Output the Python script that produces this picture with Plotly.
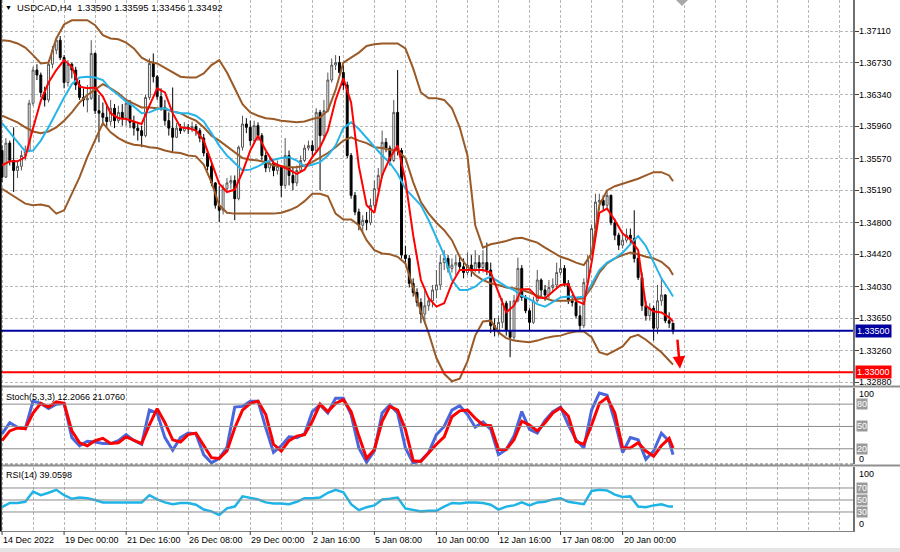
import plotly.graph_objects as go

# ---------------- text ----------------
symbol_title = "USDCAD,H4  1.33590 1.33595 1.33456 1.33492"
stoch_title = "Stoch(5,3,3) 12.2066 21.0760"
rsi_title = "RSI(14) 39.0598"

time_tick_bars = [0, 16, 32, 48, 64, 80, 96, 112, 128, 144, 160]
time_tick_labels = ["14 Dec 2022", "19 Dec 00:00", "21 Dec 16:00", "26 Dec 08:00",
                    "29 Dec 00:00", "2 Jan 16:00", "5 Jan 08:00", "10 Jan 00:00",
                    "12 Jan 16:00", "17 Jan 08:00", "20 Jan 00:00"]

price_ticks = [1.37110, 1.36730, 1.36340, 1.35960, 1.35570, 1.35190,
               1.34800, 1.34420, 1.34030, 1.33650, 1.33260, 1.32880]

support_level = 1.33500
target_level = 1.33000

# ---------------- candles (H4) ----------------
first_open = 1.3567
close = [
    1.3535, 1.3576, 1.3555, 1.3543, 1.3548, 1.3561, 1.3567, 1.3624, 1.3664, 1.3658,
    1.3637, 1.3628, 1.3671, 1.3688, 1.3700, 1.3679, 1.3649, 1.3671, 1.3664, 1.3646,
    1.3631, 1.3628, 1.3630, 1.3684, 1.3615, 1.3612, 1.3607, 1.3602, 1.3618, 1.3603,
    1.3613, 1.3606, 1.3624, 1.3601, 1.3594, 1.3591, 1.3585, 1.3631, 1.3672, 1.3656,
    1.3632, 1.3619, 1.3603, 1.3594, 1.3583, 1.3594, 1.3591, 1.3595, 1.3593, 1.3596,
    1.3591, 1.3582, 1.3564, 1.3548, 1.3528, 1.3501, 1.3495, 1.3521, 1.3528, 1.3531,
    1.3509, 1.3571, 1.3599, 1.3595, 1.3579, 1.3597, 1.3585, 1.3561, 1.3546, 1.3552,
    1.3543, 1.3548, 1.3525, 1.3561, 1.3537, 1.3528, 1.3543, 1.3555, 1.3570, 1.3573,
    1.3567, 1.3613, 1.3585, 1.3615, 1.3652, 1.3670, 1.3673, 1.3661, 1.3646, 1.3561,
    1.3513, 1.3493, 1.3477, 1.3483, 1.3480, 1.3501, 1.3521, 1.3537, 1.3577, 1.3570,
    1.3555, 1.3613, 1.3567, 1.3441, 1.3437, 1.3407, 1.3396, 1.3384, 1.3370, 1.3380,
    1.3386, 1.3399, 1.3405, 1.3432, 1.3437, 1.3425, 1.3429, 1.3432, 1.3427, 1.3420,
    1.3429, 1.3423, 1.3432, 1.3426, 1.3432, 1.3423, 1.3356, 1.3350, 1.3360, 1.3383,
    1.3350, 1.3342, 1.3386, 1.3425, 1.3390, 1.3374, 1.3360, 1.3386, 1.3411, 1.3399,
    1.3393, 1.3402, 1.3405, 1.3420, 1.3425, 1.3407, 1.3386, 1.3384, 1.3368, 1.3356,
    1.3408, 1.3435, 1.3473, 1.3505, 1.3507, 1.3501, 1.3513, 1.3480, 1.3465, 1.3453,
    1.3459, 1.3465, 1.3461, 1.3437, 1.3414, 1.3380, 1.3368, 1.3377, 1.3353, 1.3386,
    1.3393, 1.3362, 1.33590, 1.33492]
high = [
    1.3573, 1.3582, 1.3579, 1.3595, 1.3555, 1.3567, 1.3573, 1.3628, 1.3668, 1.3671,
    1.3661, 1.3644, 1.3676, 1.3693, 1.3703, 1.3705, 1.3682, 1.3676, 1.3673, 1.3668,
    1.3652, 1.3642, 1.3646, 1.3700, 1.3685, 1.3634, 1.3625, 1.3623, 1.3628, 1.3623,
    1.3621, 1.3623, 1.3630, 1.3628, 1.3609, 1.3601, 1.3597, 1.3634, 1.3678, 1.3684,
    1.3658, 1.3642, 1.3628, 1.3613, 1.3643, 1.3600, 1.3599, 1.3601, 1.3599, 1.3602,
    1.3599, 1.3594, 1.3587, 1.3567, 1.3553, 1.3529, 1.3524, 1.3526, 1.3534, 1.3537,
    1.3537, 1.3573, 1.3609, 1.3606, 1.3603, 1.3603, 1.3601, 1.3588, 1.3565, 1.3558,
    1.3555, 1.3555, 1.3549, 1.3582, 1.3567, 1.3546, 1.3549, 1.3561, 1.3574, 1.3579,
    1.3579, 1.3618, 1.3616, 1.3628, 1.3661, 1.3678, 1.3682, 1.3681, 1.3670, 1.3650,
    1.3564, 1.3517, 1.3497, 1.3489, 1.3493, 1.3509, 1.3531, 1.3546, 1.3591, 1.3582,
    1.3573, 1.3628, 1.3664, 1.3570, 1.3452, 1.3441, 1.3413, 1.3401, 1.3389, 1.3402,
    1.3390, 1.3405, 1.3423, 1.3441, 1.3447, 1.3441, 1.3437, 1.3441, 1.3441, 1.3437,
    1.3444, 1.3441, 1.3447, 1.3441, 1.3447, 1.3456, 1.3432, 1.3365, 1.3368, 1.3389,
    1.3386, 1.3386, 1.3393, 1.3438, 1.3429, 1.3393, 1.3377, 1.3391, 1.3423, 1.3413,
    1.3405, 1.3411, 1.3413, 1.3432, 1.3437, 1.3429, 1.3411, 1.3393, 1.3389, 1.3380,
    1.3413, 1.3441, 1.3478, 1.3515, 1.3515, 1.3513, 1.3519, 1.3514, 1.3485, 1.3468,
    1.3468, 1.3473, 1.3473, 1.3495, 1.3444, 1.3420, 1.3386, 1.3383, 1.3380, 1.3405,
    1.3413, 1.3394, 1.3372, 1.33595]
low = [
    1.3529, 1.3534, 1.3549, 1.3517, 1.3534, 1.3543, 1.3555, 1.3565, 1.3621, 1.3652,
    1.3631, 1.3620, 1.3625, 1.3666, 1.3683, 1.3676, 1.3642, 1.3644, 1.3654, 1.3640,
    1.3628, 1.3620, 1.3613, 1.3628, 1.3611, 1.3577, 1.3597, 1.3596, 1.3597, 1.3594,
    1.3600, 1.3597, 1.3597, 1.3594, 1.3585, 1.3579, 1.3571, 1.3583, 1.3628, 1.3649,
    1.3628, 1.3615, 1.3597, 1.3585, 1.3564, 1.3582, 1.3587, 1.3589, 1.3587, 1.3589,
    1.3585, 1.3577, 1.3560, 1.3543, 1.3524, 1.3497, 1.3481, 1.3490, 1.3519, 1.3521,
    1.3483, 1.3507, 1.3567, 1.3588, 1.3573, 1.3576, 1.3579, 1.3555, 1.3541, 1.3541,
    1.3536, 1.3538, 1.3511, 1.3521, 1.3525, 1.3519, 1.3524, 1.3543, 1.3553, 1.3567,
    1.3560, 1.3564, 1.3519, 1.3579, 1.3613, 1.3649, 1.3664, 1.3654, 1.3640, 1.3558,
    1.3509, 1.3489, 1.3471, 1.3468, 1.3471, 1.3477, 1.3497, 1.3519, 1.3534, 1.3565,
    1.3549, 1.3553, 1.3561, 1.3437, 1.3432, 1.3402, 1.3391, 1.3379, 1.3359, 1.3359,
    1.3374, 1.3378, 1.3389, 1.3399, 1.3423, 1.3420, 1.3420, 1.3417, 1.3423, 1.3413,
    1.3417, 1.3415, 1.3420, 1.3419, 1.3420, 1.3417, 1.3347, 1.3343, 1.3344, 1.3353,
    1.3344, 1.3318, 1.3338, 1.3384, 1.3386, 1.3371, 1.3350, 1.3358, 1.3384, 1.3391,
    1.3386, 1.3389, 1.3396, 1.3401, 1.3417, 1.3403, 1.3382, 1.3379, 1.3365, 1.3350,
    1.3353, 1.3405, 1.3432, 1.3471, 1.3495, 1.3495, 1.3497, 1.3477, 1.3459, 1.3447,
    1.3449, 1.3456, 1.3453, 1.3432, 1.3411, 1.3374, 1.3362, 1.3362, 1.3338, 1.3346,
    1.3380, 1.3359, 1.3353, 1.33456]
open_ = [first_open] + close[:-1]
bars = list(range(len(close)))

# ---------------- indicators (read every 2nd bar) ----------------
ind_bars = list(range(0, 173, 2)) + [173]
ma_fast = [
    1.3549, 1.3554, 1.3554, 1.3559, 1.3594, 1.3627, 1.3649, 1.3664, 1.3676, 1.3668,
    1.3644, 1.3642, 1.3643, 1.3632, 1.3612, 1.3606, 1.3605, 1.3602, 1.3599, 1.3621,
    1.3642, 1.3637, 1.3612, 1.3595, 1.3594, 1.3591, 1.3579, 1.3553, 1.3527, 1.3517,
    1.3520, 1.3541, 1.3567, 1.3585, 1.3567, 1.3552, 1.3548, 1.3544, 1.3539, 1.3544,
    1.3559, 1.3571, 1.3591, 1.3628, 1.3654, 1.3625, 1.3548, 1.3501, 1.3492, 1.3537,
    1.3558, 1.3573, 1.3531, 1.3465, 1.3411, 1.3389, 1.3379, 1.3383, 1.3407, 1.3423,
    1.3423, 1.3423, 1.3423, 1.3420, 1.3396, 1.3372, 1.3380, 1.3400, 1.3400, 1.3390,
    1.3389, 1.3397, 1.3405, 1.3406, 1.3386, 1.3382, 1.3432, 1.3492, 1.3497, 1.3483,
    1.3467, 1.3460, 1.3447, 1.3380, 1.3373, 1.3372, 1.3366, 1.3361]
ma_slow = [
    1.3600, 1.3589, 1.3578, 1.3566, 1.3567, 1.3579, 1.3595, 1.3613, 1.3631, 1.3647,
    1.3655, 1.3656, 1.3655, 1.3652, 1.3641, 1.3634, 1.3626, 1.3620, 1.3612, 1.3613,
    1.3617, 1.3618, 1.3614, 1.3612, 1.3612, 1.3609, 1.3602, 1.3588, 1.3573, 1.3561,
    1.3552, 1.3543, 1.3544, 1.3548, 1.3553, 1.3556, 1.3558, 1.3559, 1.3555, 1.3548,
    1.3550, 1.3553, 1.3561, 1.3573, 1.3594, 1.3601, 1.3593, 1.3582, 1.3571, 1.3561,
    1.3552, 1.3539, 1.3521, 1.3511, 1.3501, 1.3483, 1.3462, 1.3441, 1.3411, 1.3399,
    1.3399, 1.3403, 1.3411, 1.3415, 1.3409, 1.3403, 1.3399, 1.3392, 1.3388, 1.3382,
    1.3379, 1.3385, 1.3390, 1.3391, 1.3390, 1.3391, 1.3406, 1.3423, 1.3432, 1.3437,
    1.3444, 1.3454, 1.3464, 1.3452, 1.3432, 1.3413, 1.3399, 1.3391]
bb_upper = [
    1.3700, 1.3699, 1.3696, 1.3691, 1.3682, 1.3672, 1.3673, 1.3702, 1.3719, 1.3724,
    1.3724, 1.3724, 1.3718, 1.3706, 1.3702, 1.3701, 1.3697, 1.3690, 1.3679, 1.3674,
    1.3672, 1.3667, 1.3661, 1.3656, 1.3655, 1.3655, 1.3660, 1.3670, 1.3676, 1.3661,
    1.3642, 1.3623, 1.3613, 1.3609, 1.3606, 1.3605, 1.3603, 1.3602, 1.3601, 1.3602,
    1.3605, 1.3607, 1.3615, 1.3640, 1.3673, 1.3679, 1.3685, 1.3693, 1.3695, 1.3696,
    1.3696, 1.3696, 1.3690, 1.3666, 1.3637, 1.3630, 1.3630, 1.3628, 1.3618, 1.3595,
    1.3561, 1.3477, 1.3450, 1.3454, 1.3456, 1.3458, 1.3461, 1.3462, 1.3459, 1.3456,
    1.3450, 1.3444, 1.3439, 1.3436, 1.3432, 1.3429, 1.3443, 1.3501, 1.3519, 1.3524,
    1.3527, 1.3530, 1.3533, 1.3537, 1.3541, 1.3541, 1.3537, 1.3530]
bb_mid = [
    1.3609, 1.3605, 1.3601, 1.3595, 1.3590, 1.3588, 1.3590, 1.3595, 1.3603, 1.3613,
    1.3625, 1.3634, 1.3640, 1.3647, 1.3642, 1.3636, 1.3628, 1.3623, 1.3619, 1.3619,
    1.3618, 1.3617, 1.3614, 1.3612, 1.3607, 1.3603, 1.3595, 1.3585, 1.3579, 1.3572,
    1.3565, 1.3558, 1.3556, 1.3555, 1.3553, 1.3549, 1.3548, 1.3547, 1.3547, 1.3549,
    1.3553, 1.3558, 1.3564, 1.3571, 1.3579, 1.3583, 1.3579, 1.3576, 1.3571, 1.3570,
    1.3568, 1.3567, 1.3558, 1.3529, 1.3505, 1.3491, 1.3480, 1.3471, 1.3459, 1.3439,
    1.3427, 1.3417, 1.3411, 1.3407, 1.3405, 1.3402, 1.3401, 1.3399, 1.3396, 1.3392,
    1.3389, 1.3386, 1.3386, 1.3386, 1.3388, 1.3389, 1.3402, 1.3420, 1.3431, 1.3437,
    1.3441, 1.3444, 1.3442, 1.3439, 1.3437, 1.3433, 1.3425, 1.3417]
bb_lower = [
    1.3521, 1.3515, 1.3508, 1.3503, 1.3501, 1.3502, 1.3500, 1.3491, 1.3495, 1.3515,
    1.3535, 1.3559, 1.3579, 1.3600, 1.3589, 1.3582, 1.3577, 1.3574, 1.3573, 1.3571,
    1.3570, 1.3567, 1.3565, 1.3564, 1.3561, 1.3560, 1.3550, 1.3529, 1.3501, 1.3492,
    1.3491, 1.3491, 1.3491, 1.3491, 1.3491, 1.3491, 1.3492, 1.3495, 1.3499, 1.3506,
    1.3515, 1.3515, 1.3512, 1.3491, 1.3484, 1.3484, 1.3477, 1.3459, 1.3447, 1.3443,
    1.3442, 1.3439, 1.3431, 1.3401, 1.3373, 1.3347, 1.3317, 1.3298, 1.3289, 1.3292,
    1.3313, 1.3344, 1.3361, 1.3362, 1.3348, 1.3341, 1.3338, 1.3337, 1.3336, 1.3338,
    1.3341, 1.3343, 1.3344, 1.3347, 1.3349, 1.3349, 1.3342, 1.3324, 1.3321, 1.3326,
    1.3331, 1.3342, 1.3345, 1.3339, 1.3332, 1.3324, 1.3314, 1.3309]
stoch_main = [
    40, 55, 49, 47, 84, 81, 74, 80, 81, 35, 24, 30, 29, 27, 27, 31, 39, 31, 26, 72,
    68, 35, 18, 35, 41, 40, 12, 1, 7, 22, 76, 77, 84, 84, 48, 15, 24, 36, 35, 40,
    70, 79, 68, 88, 88, 66, 21, 2, 17, 68, 79, 68, 21, 1, 4, 15, 39, 50, 72, 78,
    66, 49, 56, 46, 12, 19, 37, 70, 46, 41, 58, 70, 76, 52, 32, 21, 72, 95, 92, 57,
    15, 35, 32, 6, 17, 41, 30, 12.2066]
stoch_signal = [
    31, 44, 48, 47, 68, 81, 76, 83, 81, 44, 28, 24, 31, 34, 27, 28, 36, 32, 27, 52,
    74, 55, 32, 29, 39, 41, 25, 8, 7, 17, 48, 72, 81, 84, 66, 26, 17, 31, 37, 39,
    57, 80, 70, 81, 86, 70, 37, 7, 19, 57, 77, 72, 46, 4, 3, 15, 26, 36, 63, 71,
    72, 61, 52, 51, 19, 19, 32, 57, 52, 44, 55, 68, 75, 64, 30, 26, 52, 81, 89, 68,
    21, 21, 28, 17, 10, 24, 34, 21.0760]
rsi = [
    38, 45, 45, 47, 64, 58, 62, 67, 58, 52, 54, 53, 50, 46, 46, 46, 45, 46, 46, 58,
    51, 46, 43, 45, 45, 42, 34, 31, 25, 36, 39, 56, 54, 51, 46, 44, 44, 43, 47, 53,
    53, 54, 62, 67, 63, 43, 33, 38, 41, 51, 52, 54, 36, 33, 31, 32, 32, 39, 45, 44,
    46, 46, 45, 42, 34, 39, 41, 46, 41, 46, 47, 51, 53, 47, 45, 43, 65, 67, 66, 59,
    55, 56, 39, 38, 41, 43, 39, 39.0598]
stoch_levels = [80, 50, 20]
rsi_levels = [70, 50, 30]

# ---------------- figure ----------------
W, H = 900, 552
XR = 853 / W
def py(px):
    return 1 - px / H

BROWN = "#9a5a28"
GRID = "#b8b8b8"
DASH = "3px,2px"
FONT = "Liberation Sans, Arial, sans-serif"

fig = go.Figure()
fig.add_trace(go.Candlestick(
    x=bars, open=open_, high=high, low=low, close=close,
    increasing=dict(line=dict(color="#555555", width=1), fillcolor="white"),
    decreasing=dict(line=dict(color="black", width=1), fillcolor="black"),
    whiskerwidth=0, hoverinfo="skip", xaxis="x", yaxis="y"))
for series in (bb_upper, bb_mid, bb_lower):
    fig.add_trace(go.Scatter(x=ind_bars, y=series, mode="lines",
                             line=dict(color=BROWN, width=2), xaxis="x", yaxis="y"))
fig.add_trace(go.Scatter(x=ind_bars, y=ma_slow, mode="lines",
                         line=dict(color="#27b4e8", width=2), xaxis="x", yaxis="y"))
fig.add_trace(go.Scatter(x=ind_bars, y=ma_fast, mode="lines",
                         line=dict(color="#ff0000", width=2), xaxis="x", yaxis="y"))

fig.add_trace(go.Scatter(x=ind_bars, y=stoch_main, mode="lines",
                         line=dict(color="#4a66dc", width=3), xaxis="x2", yaxis="y2"))
fig.add_trace(go.Scatter(x=ind_bars, y=stoch_signal, mode="lines",
                         line=dict(color="#ff0000", width=3), xaxis="x2", yaxis="y2"))
fig.add_trace(go.Scatter(x=ind_bars, y=rsi, mode="lines",
                         line=dict(color="#1fb3e6", width=2.5), xaxis="x3", yaxis="y3"))

grid_vals = list(range(0, 220, 8))

xcommon = dict(range=[-0.52, 219.4], tickvals=grid_vals, showgrid=True, gridcolor=GRID,
               griddash=DASH, gridwidth=1, zeroline=False, domain=[0, XR],
               automargin=False, showticklabels=False, tickangle=0, ticks="")

fig.update_layout(
    width=W, height=H, margin=dict(l=0, r=0, t=0, b=0, autoexpand=False),
    paper_bgcolor="white", plot_bgcolor="white", showlegend=False,
    font=dict(family=FONT, size=9, color="black"),
    xaxis=dict(**xcommon, anchor="y", rangeslider=dict(visible=False)),
    xaxis2=dict(**xcommon, anchor="y2", matches="x"),
    xaxis3=dict(**xcommon, anchor="y3", matches="x",
                showline=True, linecolor="#808080", linewidth=1),
    yaxis=dict(domain=[py(386), 1], range=[1.32833, 1.37484], side="right",
               tickvals=price_ticks, showticklabels=False, automargin=False,
               showgrid=True, gridcolor=GRID, griddash=DASH, ticks="outside", ticklen=4,
               tickcolor="#404040", showline=True, linecolor="#707070", linewidth=2,
               zeroline=False),
    yaxis2=dict(domain=[py(464), py(388)], range=[-0.5, 101.7], side="right",
                showticklabels=False, showgrid=False, ticks="", showline=True,
                automargin=False, linecolor="#707070", linewidth=2, zeroline=False),
    yaxis3=dict(domain=[py(531), py(467)], range=[-1.7, 105], side="right",
                showticklabels=False, showgrid=False, ticks="", showline=True,
                automargin=False, linecolor="#707070", linewidth=2, zeroline=False),
)

shapes = []
shapes.append(dict(type="line", xref="paper", yref="y", x0=0, x1=XR,
                   y0=support_level, y1=support_level, line=dict(color="#0000a0", width=2)))
shapes.append(dict(type="line", xref="paper", yref="y", x0=0, x1=XR,
                   y0=target_level, y1=target_level, line=dict(color="#ff0000", width=2)))
for lv in stoch_levels:
    shapes.append(dict(type="line", xref="paper", yref="y2", x0=0, x1=XR, y0=lv, y1=lv,
                       line=dict(color="#8c8c8c", width=1)))
for lv in rsi_levels:
    shapes.append(dict(type="line", xref="paper", yref="y3", x0=0, x1=XR, y0=lv, y1=lv,
                       line=dict(color="#8c8c8c", width=1)))
# time-axis tick marks at the labelled bars
for b in time_tick_bars:
    shapes.append(dict(type="line", xref="x3", yref="paper", x0=b, x1=b,
                       y0=py(531), y1=py(535), line=dict(color="#404040", width=1)))
# panel separators / frame
for pxy in (386.5, 465.5):
    shapes.append(dict(type="line", xref="paper", yref="paper", x0=0, x1=1,
                       y0=py(pxy), y1=py(pxy), line=dict(color="#909090", width=2)))
for pxy in (464,):
    shapes.append(dict(type="line", xref="paper", yref="paper", x0=0, x1=XR,
                       y0=py(pxy), y1=py(pxy), line=dict(color="#707070", width=1, dash="3px,2px")))
shapes.append(dict(type="line", xref="paper", yref="paper", x0=0.0008, x1=0.0008,
                   y0=py(531), y1=1, line=dict(color="black", width=2)))
shapes.append(dict(type="rect", xref="paper", yref="paper", x0=0, x1=1, y0=0, y1=py(548),
                   fillcolor="#e4e4e4", line=dict(width=0)))
shapes.append(dict(type="path", xref="paper", yref="paper",
                   path=f"M {676/W},{1} L {688/W},{1} L {682/W},{py(6)} Z",
                   fillcolor="#a8a8a8", line=dict(width=0)))

ann = []
ann.append(dict(xref="paper", yref="paper", x=3 / W, y=py(8), text="▼", showarrow=False,
                xanchor="left", yanchor="middle", font=dict(size=7, color="black")))
ann.append(dict(xref="paper", yref="paper", x=15 / W, y=py(8), text=symbol_title,
                showarrow=False, xanchor="left", yanchor="middle",
                font=dict(size=9.5, color="black")))
ann.append(dict(xref="paper", yref="paper", x=4 / W, y=py(397), text=stoch_title,
                showarrow=False, xanchor="left", yanchor="middle", font=dict(size=9, color="black")))
ann.append(dict(xref="paper", yref="paper", x=4 / W, y=py(475), text=rsi_title,
                showarrow=False, xanchor="left", yanchor="middle", font=dict(size=9, color="black")))
# price axis labels
for v in price_ticks:
    ann.append(dict(xref="paper", yref="y", x=857 / W, y=v, text=f"{v:.5f}",
                    showarrow=False, xanchor="left", yanchor="middle",
                    font=dict(size=9, color="black")))
# time axis labels (left-aligned at the tick, MT4 style)
for b, t in zip(time_tick_bars, time_tick_labels):
    ann.append(dict(xref="x3", yref="paper", x=b, y=py(540), text=t, showarrow=False,
                    xanchor="left", yanchor="middle", xshift=-1,
                    font=dict(size=9, color="black")))
# level labels
for txt, pxy in (("100", 394), ("0", 459), ("100", 474), ("0", 524)):
    ann.append(dict(xref="paper", yref="paper", x=857 / W, y=py(pxy), text=txt,
                    showarrow=False, xanchor="left", yanchor="middle",
                    font=dict(size=9, color="black")))
for lv in stoch_levels:
    ann.append(dict(xref="paper", yref="y2", x=856 / W, y=lv, text=str(lv), showarrow=False,
                    xanchor="left", yanchor="middle", bgcolor="#9a9a9a", borderpad=0,
                    font=dict(size=9, color="white")))
for lv in rsi_levels:
    ann.append(dict(xref="paper", yref="y3", x=856 / W, y=lv, text=str(lv), showarrow=False,
                    xanchor="left", yanchor="middle", bgcolor="#9a9a9a", borderpad=0,
                    font=dict(size=9, color="white")))
ann.append(dict(xref="paper", yref="y", x=855 / W, y=support_level, text=f"{support_level:.5f}",
                showarrow=False, xanchor="left", yanchor="middle", bgcolor="#0000a0",
                borderpad=1, font=dict(size=9, color="white")))
ann.append(dict(xref="paper", yref="y", x=855 / W, y=target_level, text=f"{target_level:.5f}",
                showarrow=False, xanchor="left", yanchor="middle", bgcolor="#ff0000",
                borderpad=1, font=dict(size=9, color="white")))
# red arrow toward the target
ann.append(dict(xref="x", yref="y", x=174.8, y=1.3304, ax=174.1, ay=1.3341,
                axref="x", ayref="y", showarrow=True, arrowhead=2, arrowsize=1,
                arrowwidth=2.5, arrowcolor="#ff0000", text=""))

fig.update_layout(shapes=shapes, annotations=ann)
fig.write_html("out.html", config={"displayModeBar": False, "staticPlot": True},
               post_script="document.body.style.margin='0';document.body.style.overflow='hidden';")
